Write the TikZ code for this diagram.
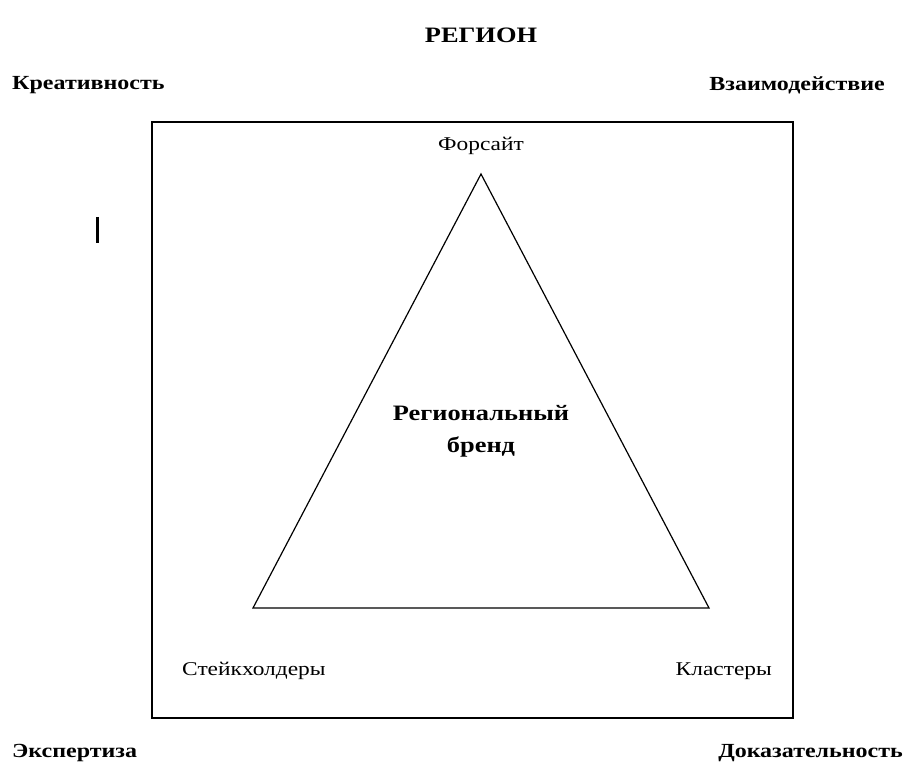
\documentclass[tikz,border=0pt]{standalone}
\usepackage{fontspec}
\setmainfont{Liberation Serif}[FakeStretch=1.2]
\usetikzlibrary{positioning}

\begin{document}
\begin{tikzpicture}[x=1pt,y=-1pt,
  bold/.style={font=\fontsize{20}{24}\selectfont\bfseries, inner sep=0pt},
  big/.style={font=\fontsize{22}{26}\selectfont\bfseries, inner sep=0pt},
  plain/.style={font=\fontsize{19.5}{23}\selectfont, inner sep=0pt}]

\useasboundingbox (0,0) rectangle (907,767);

\node[big] (region) at (481,35) {РЕГИОН};

\node[bold, anchor=west] (kreat) at (12,85) {Креативность};
\node[bold, anchor=east] (vzaim) at (885,85) {Взаимодействие};
\node[bold, anchor=west] (expert) at (12,753) {Экспертиза};
\node[bold, anchor=east] (dokaz) at (903,753) {Доказательность};

\draw [line width=1.6pt] (152,122) rectangle (793,718);

\coordinate (top) at (481,174);
\coordinate (bl) at (253,608);
\coordinate (br) at (709,608);

\draw [line width=1.2pt] (top) -- (bl) -- (br) -- cycle;

\node[plain] (forsajt) at (481,146) {Форсайт};
\node[big] (regbrend) at (481,413) {Региональный};
\node[big, below =16pt of regbrend] (brend) {бренд};

\node[plain, anchor=west] (stejk) at (182,671) {Стейкхолдеры};
\node[plain, anchor=east] (klast) at (772,671) {Кластеры};

\draw [line width=3pt] (97,217) -- (97,243);

\end{tikzpicture}
\end{document}
